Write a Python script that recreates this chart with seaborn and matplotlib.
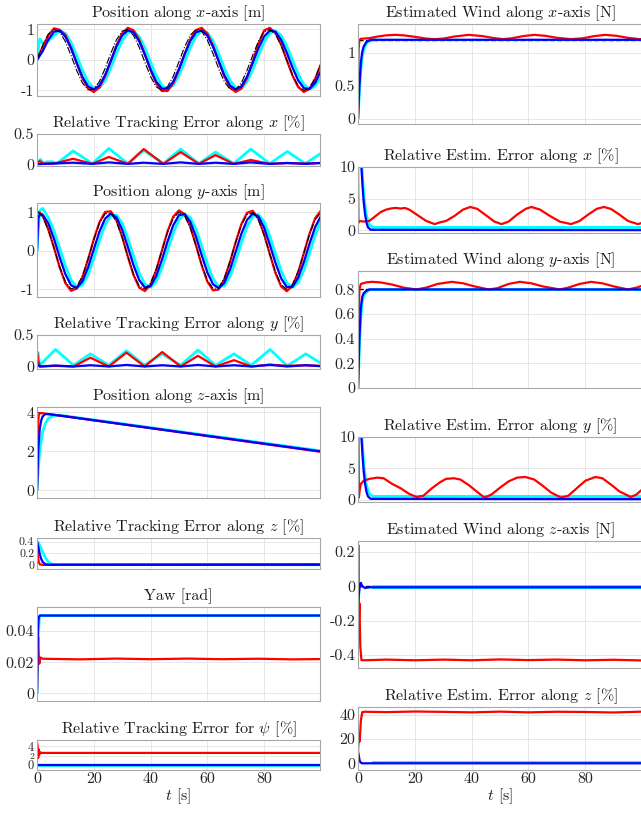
import matplotlib
matplotlib.use('Agg')
import matplotlib.pyplot as plt
from matplotlib.ticker import FuncFormatter
import seaborn as sns

# ---------------- values ----------------
# position plots share one time grid
t_pos = [0, 0.5, 1, 2, 4, 6, 8, 10, 12, 14, 16, 18, 20, 22, 24, 26, 28, 30, 32, 34, 36,
         38, 40, 42, 44, 46, 48, 50, 52, 54, 56, 58, 60, 62, 64, 66, 68, 70, 72, 74, 76,
         78, 80, 82, 84, 86, 88, 90, 92, 94, 96, 98, 100]

ref_x = [0, 0.125, 0.247, 0.479, 0.841, 0.997, 0.909, 0.598, 0.141, -0.351, -0.757, -0.978,
         -0.959, -0.706, -0.279, 0.215, 0.657, 0.938, 0.989, 0.798, 0.412, -0.075, -0.544,
         -0.880, -1.000, -0.875, -0.537, -0.066, 0.420, 0.804, 0.991, 0.935, 0.650, 0.207,
         -0.288, -0.712, -0.961, -0.976, -0.751, -0.342, 0.150, 0.605, 0.913, 0.996, 0.837,
         0.471, -0.009, -0.488, -0.846, -0.998, -0.906, -0.591, -0.132]
red_x = [0, 0.10, 0.22, 0.42, 0.80, 1.03, 0.98, 0.817, 0.401, -0.113, -0.601, -0.940, -1.049,
         -0.902, -0.533, -0.035, 0.473, 0.864, 1.045, 0.967, 0.655, 0.182, -0.334, -0.771,
         -1.017, -1.016, -0.769, -0.327, 0.192, 0.664, 0.972, 1.044, 0.859, 0.464, -0.044,
         -0.542, -0.908, -1.049, -0.936, -0.592, -0.05, 0.52, 0.959, 1.046, 0.879, 0.495,
         -0.009, -0.512, -0.888, -1.048, -0.951, -0.621, -0.139]
cyan_x = [0, 0.35, 0.68, 0.55, 0.62, 0.80, 0.947, 0.864, 0.568, 0.134, -0.333, -0.719, -0.929,
          -0.911, -0.671, -0.265, 0.204, 0.624, 0.891, 0.940, 0.758, 0.391, -0.071, -0.517,
          -0.836, -0.950, -0.831, -0.510, -0.063, 0.399, 0.764, 0.941, 0.888, 0.618, 0.197,
          -0.274, -0.676, -0.913, -0.927, -0.713, -0.325, 0.143, 0.575, 0.867, 0.946, 0.795,
          0.447, -0.009, -0.464, -0.804, -0.948, -0.861, -0.561]
blue_x = [0, 0.06, 0.14, 0.28, 0.66, 0.92, 0.955, 0.755, 0.37, -0.105, -0.555, -0.868, -0.969,
          -0.833, -0.493, -0.032, 0.437, 0.798, 0.965, 0.894, 0.605, 0.168, -0.308, -0.712,
          -0.940, -0.939, -0.710, -0.302, 0.178, 0.613, 0.898, 0.964, 0.793, 0.429, -0.041,
          -0.500, -0.839, -0.969, -0.864, -0.547, -0.096, 0.377, 0.760, 0.955, 0.918, 0.655,
          0.232, -0.248, -0.667, -0.922, -0.953, -0.750, -0.363]

ref_y = [1, 0.992, 0.969, 0.878, 0.540, 0.071, -0.416, -0.801, -0.990, -0.936, -0.654, -0.211,
         0.284, 0.709, 0.960, 0.977, 0.754, 0.347, -0.146, -0.602, -0.911, -0.997, -0.839,
         -0.476, 0.004, 0.484, 0.844, 0.998, 0.907, 0.595, 0.137, -0.355, -0.760, -0.978,
         -0.958, -0.703, -0.275, 0.219, 0.660, 0.939, 0.989, 0.796, 0.408, -0.080, -0.548,
         -0.882, -1.000, -0.873, -0.533, -0.062, 0.424, 0.807, 0.991]
red_y = [1.0, 1.0, 0.99, 0.91, 0.55, 0.075, -0.437, -0.841, -1.040, -0.983, -0.687, -0.222,
         0.298, 0.744, 1.008, 1.026, 0.792, 0.364, -0.153, -0.632, -0.957, -1.047, -0.881,
         -0.500, 0.004, 0.508, 0.886, 1.048, 0.952, 0.625, 0.144, -0.373, -0.798, -1.027,
         -1.006, -0.738, -0.289, 0.230, 0.693, 0.986, 1.038, 0.836, 0.428, -0.084, -0.575,
         -0.926, -1.050, -0.917, -0.560, -0.065, 0.445, 0.847, 1.041]
cyan_y = [0, 0.6, 1.05, 1.10, 0.86, 0.513, 0.067, -0.395, -0.761, -0.941, -0.889, -0.621,
          -0.200, 0.270, 0.674, 0.912, 0.928, 0.716, 0.330, -0.139, -0.572, -0.865, -0.947,
          -0.797, -0.452, 0.004, 0.460, 0.802, 0.948, 0.862, 0.565, 0.130, -0.337, -0.722,
          -0.929, -0.910, -0.668, -0.261, 0.208, 0.627, 0.892, 0.940, 0.756, 0.388, -0.076,
          -0.521, -0.838, -0.950, -0.829, -0.506, -0.059, 0.403, 0.767]
blue_y = [0, 0.85, 0.95, 0.94, 0.710, 0.306, -0.173, -0.609, -0.896, -0.964, -0.795, -0.433,
          0.037, 0.497, 0.835, 0.969, 0.866, 0.551, 0.099, -0.374, -0.758, -0.955, -0.920,
          -0.659, -0.236, 0.243, 0.662, 0.922, 0.954, 0.752, 0.367, -0.110, -0.559, -0.870,
          -0.969, -0.831, -0.487, -0.025, 0.441, 0.801, 0.965, 0.893, 0.603, 0.165, -0.313,
          -0.715, -0.942, -0.938, -0.704, -0.298, 0.181, 0.616, 0.899]

# relative tracking error along x [%]
t_ex_c = [0, 1.2, 2.2, 3.5, 5.5, 7.0, 12.7, 19.5, 25.3, 32.0, 37.6, 44.5, 50.6, 57.0, 62.9,
          69.3, 75.3, 82.0, 88.2, 94.5, 99.7]
ex_cyan = [0.02, 0.08, 0.01, 0.04, 0.04, 0.01, 0.22, 0.01, 0.26, 0.01, 0.23, 0.01, 0.25, 0.01,
           0.20, 0.01, 0.25, 0.01, 0.21, 0.01, 0.17]
t_ex_r = [0, 1, 2.5, 6.0, 12.7, 19.5, 25.3, 32.0, 37.6, 44.5, 50.6, 57.0, 62.9, 69.3, 75.3,
          82.0, 88.2, 94.5, 99.7]
ex_red = [0.02, 0.05, 0.01, 0.01, 0.09, 0.005, 0.12, 0.005, 0.25, 0.005, 0.20, 0.005, 0.15,
          0.005, 0.07, 0.005, 0.02, 0.01, 0.02]
t_ex_b = [0, 12.7, 19.5, 25.3, 32.0, 37.6, 44.5, 50.6, 57.0, 62.9, 69.3, 75.3, 82.0, 88.2,
          94.5, 99.7]
ex_blue = [0.0, 0.025, 0.005, 0.03, 0.005, 0.025, 0.005, 0.03, 0.005, 0.025, 0.005, 0.03,
           0.005, 0.02, 0.005, 0.02]

# relative tracking error along y [%]
t_ey = [0, 0.4, 1.0, 6.5, 12.9, 18.8, 25.3, 31.5, 37.9, 44.1, 50.6, 56.7, 62.9, 69.4, 75.5,
        82.1, 88.2, 94.7, 99.7]
ey_cyan = [0.2, 0.22, 0.02, 0.27, 0.02, 0.2, 0.02, 0.25, 0.02, 0.2, 0.02, 0.26, 0.02, 0.2,
           0.02, 0.27, 0.01, 0.2, 0.06]
ey_red = [0.24, 0.1, 0.0, 0.01, 0.0, 0.14, 0.0, 0.22, 0.0, 0.23, 0.0, 0.17, 0.0, 0.10, 0.0,
          0.03, 0.01, 0.02, 0.01]
ey_blue = [0.05, 0.02, 0.0, 0.015, 0.0, 0.02, 0.0, 0.025, 0.0, 0.02, 0.0, 0.025, 0.0, 0.02,
           0.0, 0.025, 0.0, 0.02, 0.005]

# position along z [m]
t_z_ref = [0, 100]
z_ref = [4.0, 2.0]
t_z_r = [0, 0.3, 0.6, 1.0, 2.0, 100]
z_red = [0, 3.0, 3.85, 3.97, 3.96, 1.98]
t_z_c = [0, 0.5, 1, 2, 3, 4, 6, 8, 100]
z_cyan = [0, 1.2, 2.1, 3.0, 3.45, 3.7, 3.84, 3.86, 2.03]
t_z_b = [0, 0.5, 1.0, 1.5, 2.0, 3.0, 5.0, 100]
z_blue = [0, 2.2, 3.2, 3.6, 3.8, 3.92, 3.9, 2.0]

# relative tracking error along z [%]
t_ez_c = [0, 0.5, 1, 2, 3, 4, 5, 6, 100]
ez_cyan = [0.4, 0.38, 0.33, 0.22, 0.12, 0.05, 0.02, 0.005, 0.003]
t_ez_r = [0, 0.3, 0.6, 1, 2, 100]
ez_red = [0.4, 0.2, 0.05, 0.01, 0.0, 0.012]
t_ez_b = [0, 0.5, 1, 1.5, 2, 3, 4, 100]
ez_blue = [0.4, 0.3, 0.18, 0.1, 0.05, 0.01, 0.003, 0.002]

# yaw [rad]
t_yaw_c = [0, 0.4, 0.8, 1.2, 100]
yaw_cyan = [0, 0.035, 0.048, 0.05, 0.05]
t_yaw_b = [0, 0.3, 0.6, 1, 100]
yaw_blue = [0, 0.04, 0.049, 0.05, 0.05]
t_yaw_r = [0, 0.2, 0.4, 0.6, 0.8, 1.2, 2, 15, 28, 40, 53, 65, 78, 90, 100]
yaw_red = [0, 0.02, 0.036, 0.025, 0.019, 0.023, 0.0222, 0.0218, 0.0223, 0.0219, 0.0223,
           0.0219, 0.0222, 0.0218, 0.0220]

# relative tracking error for psi [%]
t_epsi_r = [0, 0.2, 0.4, 0.6, 0.8, 1.0, 1.5, 100]
epsi_red = [4.8, 4.2, 1.5, 3.4, 2.2, 2.8, 2.6, 2.6]
t_epsi_b = [0, 100]
epsi_blue = [-0.05, -0.05]

# estimated wind along x [N]
t_wx_ref = [0, 100]
wx_ref = [1.2, 1.2]
t_wx_r = [0, 0.2, 0.5, 1, 4, 7, 10, 13, 16, 20, 24, 27, 30, 34, 39, 44, 48, 51, 54, 58, 62,
          66, 70, 75, 79, 83, 87, 91, 95, 99, 100]
wx_red = [0, 1.05, 1.2, 1.215, 1.225, 1.25, 1.268, 1.275, 1.268, 1.245, 1.218, 1.21, 1.218,
          1.25, 1.275, 1.255, 1.225, 1.21, 1.222, 1.255, 1.275, 1.26, 1.23, 1.21, 1.222, 1.255,
          1.275, 1.26, 1.23, 1.21, 1.21]
t_wx_c = [0, 0.5, 1, 1.5, 2, 3, 4, 5, 6]
wx_cyan = [0, 0.4, 0.75, 0.95, 1.05, 1.15, 1.18, 1.195, 1.2]
t_wx_b = [0, 0.5, 1, 1.5, 2, 3, 4, 5, 100]
wx_blue = [0, 0.5, 0.85, 1.02, 1.1, 1.17, 1.19, 1.2, 1.2]
t_band = [5, 100]
wx_band_lo = [1.188, 1.188]
wx_band_hi = [1.212, 1.212]

# relative estimation error along x [%]
t_wex_r = [0, 0.15, 0.4, 2, 4, 6, 8, 10, 12, 13.5, 15, 16.5, 18, 21, 24, 27, 29, 31, 34, 37,
           39.5, 42, 45, 48, 50.5, 53, 56, 59, 61, 64, 67.5, 71, 75, 78, 81, 84, 86.5, 89, 92,
           95, 98.5, 100]
wex_red = [10.5, 1.2, 1.5, 1.4, 1.5, 2.2, 2.9, 3.3, 3.5, 3.55, 3.45, 3.55, 3.3, 2.4, 1.5, 1.0,
           1.3, 1.5, 2.3, 3.3, 3.7, 3.4, 2.4, 1.4, 1.0, 1.4, 2.5, 3.4, 3.7, 3.3, 2.3, 1.4, 1.0,
           1.5, 2.5, 3.4, 3.7, 3.4, 2.5, 1.5, 1.0, 1.2]
t_we_c = [0, 1.4, 1.8, 2.3, 2.9, 3.5, 4.2, 5]
we_cyan = [12, 10, 7, 4.5, 2.5, 1.4, 0.8, 0.6]
t_we_b = [0, 1.2, 1.6, 2.0, 2.5, 3, 3.5, 4.5, 100]
we_blue = [12, 10, 7, 4.5, 2.5, 1.2, 0.5, 0.1, 0.05]
we_band_lo = [0.1, 0.1]
we_band_hi = [0.7, 0.7]

# estimated wind along y [N]
t_wy_ref = [0, 100]
wy_ref = [0.8, 0.8]
t_wy_r = [0, 0.2, 0.5, 1, 3, 5, 8, 12, 16, 20.5, 24, 28, 33, 37, 41, 46, 49, 53, 57, 61, 65,
          71, 74, 78, 82, 86, 90, 95, 98, 100]
wy_red = [0, 0.55, 0.8, 0.845, 0.858, 0.862, 0.857, 0.84, 0.815, 0.80, 0.815, 0.845, 0.862,
          0.85, 0.825, 0.80, 0.81, 0.845, 0.862, 0.85, 0.825, 0.80, 0.815, 0.845, 0.862, 0.85,
          0.825, 0.80, 0.815, 0.83]
t_wy_c = [0, 0.5, 1, 1.5, 2, 3, 4, 5]
wy_cyan = [0, 0.33, 0.58, 0.7, 0.75, 0.78, 0.795, 0.8]
t_wy_b = [0, 0.5, 1, 1.5, 2, 3, 4, 100]
wy_blue = [0, 0.4, 0.65, 0.74, 0.77, 0.79, 0.8, 0.8]
wy_band_lo = [0.791, 0.791]
wy_band_hi = [0.809, 0.809]

# relative estimation error along y [%]
t_wey_r = [0, 0.15, 0.3, 0.6, 1.0, 2, 4, 6.8, 9, 12, 15, 18, 20.6, 23, 26, 29, 31, 33.8, 36,
           39, 42, 44.5, 47, 50, 53, 56, 58.9, 62, 65, 68, 71.5, 74, 77, 80, 83.5, 86, 89, 92,
           96, 98, 100]
wey_red = [10.5, 10.5, 0.3, 1.5, 2.5, 3.0, 3.3, 3.5, 3.4, 2.5, 1.8, 0.9, 0.4, 0.6, 1.8, 2.8,
           3.3, 3.4, 3.2, 2.3, 1.2, 0.3, 0.8, 1.9, 2.9, 3.5, 3.6, 3.2, 2.2, 1.1, 0.3, 0.6, 1.8,
           3.0, 3.6, 3.4, 2.4, 1.3, 0.4, 0.8, 1.6]

# estimated wind along z [N]
t_wz_ref = [0, 100]
wz_ref = [0.0, 0.0]
t_wz_r = [0, 0.1, 0.3, 0.5, 0.8, 1.2, 2, 10, 20, 30, 40, 50, 60, 70, 80, 90, 100]
wz_red = [0.0, 0.24, -0.2, -0.1, -0.35, -0.43, -0.432, -0.428, -0.432, -0.428, -0.432,
          -0.427, -0.431, -0.428, -0.432, -0.429, -0.433]
t_wz_b = [0, 0.3, 0.7, 1.0, 1.5, 2.5, 4, 100]
wz_blue = [-0.1, -0.05, 0.01, 0.02, 0.0, -0.01, -0.006, -0.006]
wz_band_lo = [-0.016, -0.016]
wz_band_hi = [0.006, 0.006]

# relative estimation error along z [%]
t_wez_r = [0, 0.3, 0.6, 1.0, 1.5, 2.5, 10, 20, 30, 40, 50, 60, 70, 80, 90, 100]
wez_red = [10, 22, 18, 35, 42, 42.3, 42.0, 42.5, 42.2, 41.8, 42.4, 41.8, 42.3, 42.1, 41.7, 42.4]
t_wez_b = [0, 0.3, 0.6, 1.0, 1.5, 100]
wez_blue = [10, 6, 2, 0.5, 0, 0]
wez_band_lo = [0.0, 0.0]
wez_band_hi = [1.5, 1.5]

titles_left = ['Position along $x$-axis [m]', 'Relative Tracking Error along $x$ [%]',
               'Position along $y$-axis [m]', 'Relative Tracking Error along $y$ [%]',
               'Position along $z$-axis [m]', 'Relative Tracking Error along $z$ [%]',
               'Yaw [rad]', r'Relative Tracking Error for $\psi$ [%]']
titles_right = ['Estimated Wind along $x$-axis [N]', 'Relative Estim. Error along $x$ [%]',
                'Estimated Wind along $y$-axis [N]', 'Relative Estim. Error along $y$ [%]',
                'Estimated Wind along $z$-axis [N]', 'Relative Estim. Error along $z$ [%]']

# ---------------- style ----------------
sns.set_theme(style='whitegrid')
plt.rcParams['font.family'] = ['cmr10', 'DejaVu Serif']
plt.rcParams['mathtext.fontset'] = 'cm'
plt.rcParams['axes.unicode_minus'] = False

RED, CYAN, BLUE = '#ff0000', '#00ffff', '#0000ff'
W, H = 641, 816
fig = plt.figure(figsize=(W / 100, H / 100), dpi=100)


def panel(x0, y0, x1, y1, xmax, ylim, yticks, title, bottom=False, ysize=11.5):
    ax = fig.add_axes([x0 / W, 1 - y1 / H, (x1 - x0) / W, (y1 - y0) / H])
    ax.set_facecolor('white')
    ax.set_xlim(0, xmax)
    ax.set_ylim(*ylim)
    ax.set_xticks([0, 20, 40, 60, 80])
    ax.set_yticks(yticks)
    ax.yaxis.set_major_formatter(FuncFormatter(lambda v, p: '%g' % v))
    ax.xaxis.set_major_formatter(FuncFormatter(lambda v, p: '%g' % v))
    ax.grid(True, color='#e3e3e3', lw=0.6)
    for s in ax.spines.values():
        s.set_color('#a8a8a8')
        s.set_linewidth(0.8)
    ax.tick_params(labelsize=11.5, colors='#262626', pad=2, length=0,
                   labelbottom=bottom)
    ax.tick_params(axis='y', labelsize=ysize)
    ax.set_title(title, fontsize=11.5, pad=5, color='#1a1a1a')
    if bottom:
        ax.set_xlabel('$t$ [s]', fontsize=11.5, labelpad=0, color='#262626')
    return ax


def line(ax, t, v, color, lw=1.6, ls='-'):
    sns.lineplot(x=t, y=v, ax=ax, color=color, lw=lw, ls=ls, estimator=None, sort=False)


def band(ax, lo, hi):
    ax.fill_between(t_band, lo, hi, color=CYAN, lw=0, zorder=2)


LX0, LX1, LMAX = 37, 320, 99.7
RX0, RX1, RMAX = 358, 643, 100.3

# left column
ax = panel(LX0, 24, LX1, 96, LMAX, (-1.18, 1.17), [-1, 0, 1], titles_left[0])
line(ax, t_pos, cyan_x, CYAN, 2.0)
line(ax, t_pos, red_x, RED)
line(ax, t_pos, blue_x, BLUE)
line(ax, t_pos, ref_x, 'black', 0.8, '-.')

ax = panel(LX0, 134, LX1, 166, LMAX, (-0.03, 0.5), [0, 0.5], titles_left[1])
line(ax, t_ex_c, ex_cyan, CYAN, 2.0)
line(ax, t_ex_r, ex_red, RED)
line(ax, t_ex_b, ex_blue, BLUE)

ax = panel(LX0, 203, LX1, 297, LMAX, (-1.2, 1.24), [-1, 0, 1], titles_left[2])
line(ax, t_pos, cyan_y, CYAN, 2.0)
line(ax, t_pos, red_y, RED)
line(ax, t_pos, blue_y, BLUE)
line(ax, t_pos, ref_y, 'black', 0.8, '-.')

ax = panel(LX0, 335, LX1, 369, LMAX, (-0.04, 0.5), [0, 0.5], titles_left[3])
line(ax, t_ey, ey_cyan, CYAN, 2.0)
line(ax, t_ey, ey_red, RED)
line(ax, t_ey, ey_blue, BLUE)

ax = panel(LX0, 407, LX1, 498, LMAX, (-0.39, 4.28), [0, 2, 4], titles_left[4])
line(ax, t_z_ref, z_ref, 'black', 0.8, '-.')
line(ax, t_z_c, z_cyan, CYAN, 2.0)
line(ax, t_z_r, z_red, RED)
line(ax, t_z_b, z_blue, BLUE)

ax = panel(LX0, 538, LX1, 569, LMAX, (-0.07, 0.46), [0, 0.2, 0.4], titles_left[5],
           ysize=8.5)
line(ax, t_ez_c, ez_cyan, CYAN, 2.0)
line(ax, t_ez_r, ez_red, RED)
line(ax, t_ez_b, ez_blue, BLUE)

ax = panel(LX0, 607, LX1, 701, LMAX, (-0.005, 0.0555), [0, 0.02, 0.04], titles_left[6])
line(ax, t_yaw_c, yaw_cyan, CYAN, 2.0)
line(ax, t_yaw_r, yaw_red, RED)
line(ax, t_yaw_b, yaw_blue, BLUE)

ax = panel(LX0, 740, LX1, 770, LMAX, (-1.1, 5.4), [0, 4], titles_left[7], bottom=True,
           ysize=9)
line(ax, t_epsi_b, epsi_blue, CYAN, 2.0)
line(ax, t_epsi_r, epsi_red, RED)
line(ax, t_epsi_b, epsi_blue, BLUE)
ax.set_yticks([2], minor=True)
ax.yaxis.set_minor_formatter(FuncFormatter(lambda v, p: '%g' % v))
ax.tick_params(axis='y', which='minor', labelsize=7, length=0, pad=2, colors='#262626')
ax.grid(True, which='minor', axis='y', color='#e3e3e3', lw=0.6)

# right column
ax = panel(RX0, 24, RX1, 124, RMAX, (-0.08, 1.44), [0, 0.5, 1], titles_right[0])
line(ax, t_wx_ref, wx_ref, 'black', 1.0, '--')
band(ax, wx_band_lo, wx_band_hi)
line(ax, t_wx_c, wx_cyan, CYAN, 2.0)
line(ax, t_wx_r, wx_red, RED)
line(ax, t_wx_b, wx_blue, BLUE)

ax = panel(RX0, 167, RX1, 233, RMAX, (-0.4, 10), [0, 5, 10], titles_right[1])
band(ax, we_band_lo, we_band_hi)
line(ax, t_we_c, we_cyan, CYAN, 2.0)
line(ax, t_wex_r, wex_red, RED)
line(ax, t_we_b, we_blue, BLUE)

ax = panel(RX0, 271, RX1, 388, RMAX, (0, 0.95), [0, 0.2, 0.4, 0.6, 0.8], titles_right[2])
line(ax, t_wy_ref, wy_ref, 'black', 1.0, '--')
band(ax, wy_band_lo, wy_band_hi)
line(ax, t_wy_c, wy_cyan, CYAN, 2.0)
line(ax, t_wy_r, wy_red, RED)
line(ax, t_wy_b, wy_blue, BLUE)

ax = panel(RX0, 437, RX1, 502, RMAX, (-0.4, 10), [0, 5, 10], titles_right[3])
band(ax, we_band_lo, we_band_hi)
line(ax, t_we_c, we_cyan, CYAN, 2.0)
line(ax, t_wey_r, wey_red, RED)
line(ax, t_we_b, we_blue, BLUE)

ax = panel(RX0, 541, RX1, 668, RMAX, (-0.477, 0.264), [-0.4, -0.2, 0, 0.2], titles_right[4])
line(ax, t_wz_ref, wz_ref, 'black', 1.0, '--')
band(ax, wz_band_lo, wz_band_hi)
line(ax, t_wz_r, wz_red, RED)
line(ax, t_wz_b, wz_blue, BLUE)

ax = panel(RX0, 707, RX1, 770, RMAX, (-5.5, 46.2), [0, 20, 40], titles_right[5], bottom=True)
band(ax, wez_band_lo, wez_band_hi)
line(ax, t_wez_r, wez_red, RED)
line(ax, t_wez_b, wez_blue, BLUE)

fig.savefig('out.png', dpi=100)
